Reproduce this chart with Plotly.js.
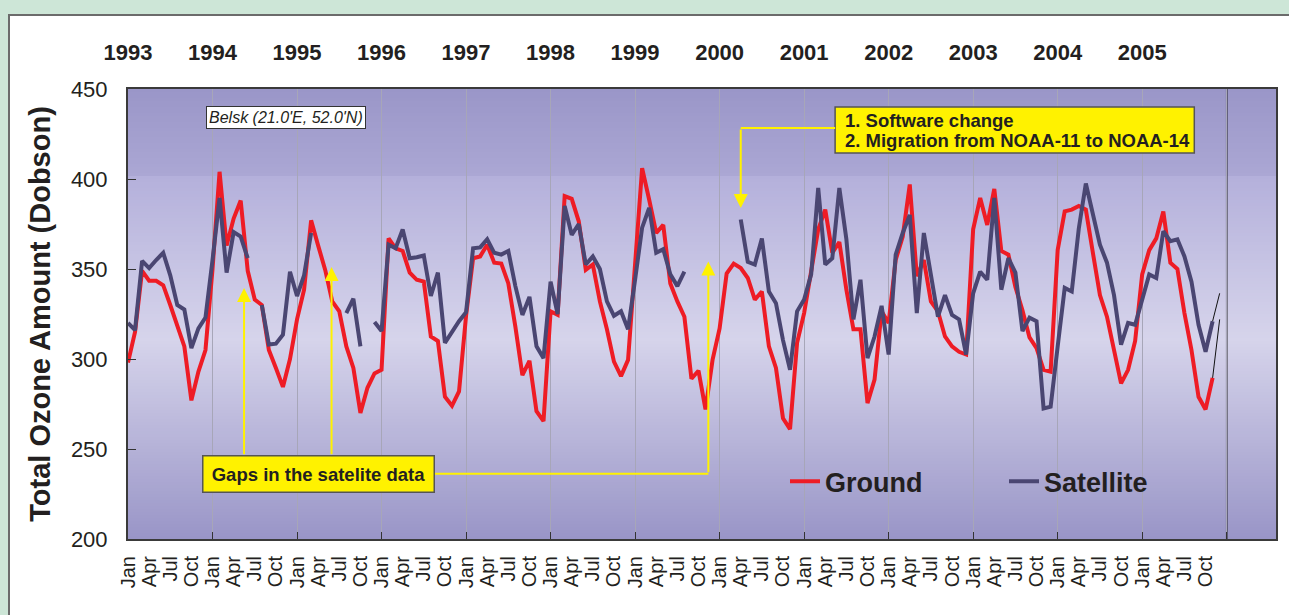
<!DOCTYPE html>
<html><head><meta charset="utf-8">
<script src="https://cdn.plot.ly/plotly-3.0.1.min.js"></script>
<style>
html,body{margin:0;padding:0;width:1289px;height:615px;overflow:hidden;background:#cde6d7;}
#frame{position:absolute;left:8px;top:14px;width:1289px;height:610px;background:#fff;border-left:2px solid #6b6b6b;border-top:2px solid #6b6b6b;}
#chart{position:absolute;left:0;top:0;width:1289px;height:615px;}
</style></head><body>
<div id="frame"></div><div id="chart"></div>
<script>
// ---- data (monthly, Jan 1993 .. Dec 2005) ----
const YEARS = ['1993','1994','1995','1996','1997','1998','1999','2000','2001','2002','2003','2004','2005'];
const MONTH_TICKS = ['Jan','Apr','Jul','Oct'];

const ground = [
  298, 315, 349, 343.5, 343.5, 341, 330, 319, 307, 277, 293, 305,          // 1993
  350, 404, 363, 378, 388, 349, 333, 330, 305, 295, 284.5, 300,            // 1994
  322, 338.5, 377, 363, 349.5, 332, 326.5, 307, 295, 270, 284, 292,        // 1995
  294, 367, 361.5, 360, 348, 344, 343, 312.5, 310, 279, 274, 282,          // 1996
  324, 356, 357, 363.5, 353.5, 353, 342, 318, 291, 299, 271, 265.5,        // 1997
  326.5, 324.5, 390.5, 389, 376.5, 349.5, 352.5, 332, 316.5, 298.5, 290.5, 299.5, // 1998
  351, 406, 388.5, 370, 374.5, 342, 332, 323.5, 289, 293.5, 272, 299.5,    // 1999
  317, 347.5, 353, 350.5, 345, 333, 337.5, 307, 295, 267, 261, 309,        // 2000
  325.5, 349.5, 372, 383, 359, 365, 338.5, 316.5, 316.5, 275.5, 288.5, 326.5, // 2001
  320, 355, 368, 397, 346, 355, 332, 326.5, 312.5, 307, 304, 302.5,        // 2002
  372, 389.5, 374.5, 394.5, 360, 358, 340, 327, 312, 306, 294, 293,        // 2003
  360.5, 382, 383, 385, 383, 359, 335.5, 323.5, 305, 286.5, 294, 310,      // 2004
  347, 360.5, 367, 382, 353.5, 350, 325.5, 305, 279, 272, 289.5, null      // 2005
];

const satellite = [
  320, 316, 354.5, 350.5, 355, 359, 346.5, 330, 327.5, 306, 317, 323,      // 1993
  355, 389.5, 348, 370.5, 368, 356, null, 330, 308, 308.5, 313.5, 348.5,   // 1994
  335, 346.5, 370, null, null, null, null, 325.5, 333.5, 307, null, 320.5, // 1995
  315.5, 363.5, 361.5, 372, 356, 356.5, 357.5, 335, 348, 309, 315.5, 321,  // 1996
  326, 361.5, 362, 366.5, 359, 358, 360, 340.5, 324.5, 334.5, 307, 300.5,  // 1997
  343, 325, 385, 369, 375, 352.5, 357, 350, 332, 324, 326.5, 316.5,        // 1998
  344, 373, 384, 359, 361, 347, 340.5, 348.5, null, null, null, null,      // 1999
  null, null, null, 377.5, 354, 352.5, 367, 337.5, 331, 310.5, 294, 326.5, // 2000
  333, 347, 395, 352.5, 356, 395, 366.5, 322, 344, 300.5, 312.5, 329.5,    // 2001
  302.5, 358, 370, 380, 325.5, 370, 346, 323.5, 335.5, 324.5, 322, 302.5,  // 2002
  336.5, 348.5, 344, 389.5, 338.5, 356, 348, 315.5, 323, 321, 272.5, 273.5,// 2003
  307, 339.5, 337.5, 372.5, 397.5, 380, 363.5, 353.5, 335.5, 308, 320, 319, // 2004
  333, 347, 345, 371, 365.5, 366.5, 357, 343, 319, 304, 321, null          // 2005
];

// thin black extension segments at the end of each series (Nov -> Dec 2005)
const endMonths = [154, 155];
const groundEnd = [289.5, 322];
const satelliteEnd = [321, 336.5];

// ---- derived positions (month index) ----
const monthIndex = ground.map((_, i) => i);
const yearTickVals = YEARS.map((_, i) => i * 12);
const monthTickVals = [], monthTickText = [];
YEARS.forEach((_, yi) => MONTH_TICKS.forEach((m, mi) => { monthTickVals.push(yi * 12 + mi * 3); monthTickText.push(m); }));
const gridVals = yearTickVals.concat([YEARS.length * 12]);

const FONT = 'Liberation Sans, Arial, Helvetica, sans-serif';
const TXT = '#231f20';
const YEL = '#fff200';
const XR = [0, 163];

const traces = [
  {x: monthIndex, y: ground, type: 'scatter', mode: 'lines', name: 'Ground',
   line: {color: '#ee1c25', width: 4}, connectgaps: false},
  {x: monthIndex, y: satellite, type: 'scatter', mode: 'lines', name: 'Satellite',
   line: {color: '#4a4672', width: 4}, connectgaps: false},
  {x: endMonths, y: groundEnd, type: 'scatter', mode: 'lines', showlegend: false,
   line: {color: '#111', width: 1}},
  {x: endMonths, y: satelliteEnd, type: 'scatter', mode: 'lines', showlegend: false,
   line: {color: '#111', width: 1}},
  // carriers so the top (year) and bottom (month) label axes are drawn
  {x: [yearTickVals[0]], y: [null], xaxis: 'x2', yaxis: 'y', type: 'scatter', mode: 'lines',
   showlegend: false, hoverinfo: 'skip'},
  {x: [monthTickVals[0]], y: [null], xaxis: 'x3', yaxis: 'y', type: 'scatter', mode: 'lines',
   showlegend: false, hoverinfo: 'skip'}
];

// background gradient strips (paper coords)
function lerp(a, b, t) { return a + (b - a) * t; }
const stops = [[0,[154,150,200]],[87,[171,167,212]],[87.01,[180,176,219]],[250,[214,212,235]],[450,[153,149,199]]];
function colAt(p) {
  for (let i = 0; i < stops.length - 1; i++) {
    const [p0, c0] = stops[i], [p1, c1] = stops[i + 1];
    if (p >= p0 && p <= p1) {
      const t = (p - p0) / (p1 - p0);
      return 'rgb(' + c0.map((v, k) => Math.round(lerp(v, c1[k], t))).join(',') + ')';
    }
  }
  return 'rgb(153,149,199)';
}
const shapes = [];
const H = 450, STEP = 3;
for (let py = 0; py < H; py += STEP) {
  shapes.push({type: 'rect', xref: 'paper', yref: 'paper', x0: 0, x1: 1,
    y0: 1 - Math.min(py + STEP, H) / H, y1: 1 - py / H,
    fillcolor: colAt(py + STEP / 2), line: {width: 0}, layer: 'below'});
}
// black divider at Jan 2006
shapes.push({type: 'line', xref: 'x', yref: 'paper', x0: 156, x1: 156, y0: 0, y1: 1,
  line: {color: '#1a1a1a', width: 1.5}, layer: 'between'});
// software-change box
shapes.push({type: 'rect', xref: 'x', yref: 'y', x0: 100.4, x1: 151.4, y0: 414.4, y1: 440,
  fillcolor: YEL, line: {color: '#555', width: 1.5}, layer: 'above'});
// yellow connector lines
shapes.push({type: 'line', xref: 'x', yref: 'y', x0: 43.6, x1: 82.4, y0: 236.3, y1: 236.3,
  line: {color: YEL, width: 2}, layer: 'above'});
shapes.push({type: 'line', xref: 'x', yref: 'y', x0: 100.4, x1: 87.0, y0: 428.3, y1: 428.3,
  line: {color: YEL, width: 2}, layer: 'above'});

function arrow(x, yHead, yTail) {
  return {x: x, y: yHead, ax: x, ay: yTail, xref: 'x', yref: 'y', axref: 'x', ayref: 'y',
    text: '', showarrow: true, arrowhead: 2, arrowsize: 1.4, arrowwidth: 2, arrowcolor: YEL};
}

const annotations = [
  {x: 22.4, y: 434.3, xref: 'x', yref: 'y', text: "Belsk (21.0'E, 52.0'N)", showarrow: false,
   font: {family: FONT, size: 16, style: 'italic', color: TXT}, bgcolor: '#fff',
   bordercolor: '#333', borderwidth: 1, borderpad: 2},
  arrow(16.48, 339.4, 246.3),
  arrow(28.9, 351.1, 246.3),
  arrow(82.4, 354.2, 236.3),
  arrow(87.0, 383.9, 428.3),
  {x: 27.1, y: 236.1, xref: 'x', yref: 'y', text: 'Gaps in the satelite data', showarrow: false,
   font: {family: FONT, size: 18.5, weight: 'bold', color: TXT}, bgcolor: YEL,
   bordercolor: '#555', borderwidth: 1.5, borderpad: 5, width: 220, height: 25},
  {x: 101.5, y: 432.4, xref: 'x', yref: 'y', xanchor: 'left', text: '1. Software change', showarrow: false,
   font: {family: FONT, size: 18.5, weight: 'bold', color: TXT}},
  {x: 101.5, y: 421.3, xref: 'x', yref: 'y', xanchor: 'left', text: '2. Migration from NOAA-11 to NOAA-14', showarrow: false,
   font: {family: FONT, size: 18.5, weight: 'bold', color: TXT}}
];

const layout = {
  width: 1289, height: 615,
  margin: {l: 128, r: 13, t: 89, b: 76, pad: 0},
  paper_bgcolor: 'rgba(0,0,0,0)', plot_bgcolor: 'rgba(0,0,0,0)',
  font: {family: FONT, color: TXT},
  showlegend: true,
  legend: {orientation: 'h', x: 0.5723, y: 0.1273, xanchor: 'left', yanchor: 'middle',
    bgcolor: 'rgba(0,0,0,0)', font: {family: FONT, size: 27, weight: 'bold', color: TXT},
    entrywidth: 174, entrywidthmode: 'pixels', traceorder: 'normal'},
  xaxis: {range: XR, tickmode: 'array', tickvals: gridVals, showticklabels: false,
    ticks: 'inside', ticklen: 7, tickcolor: '#333', tickwidth: 1,
    showgrid: true, gridcolor: '#a7a6b8', gridwidth: 1, zeroline: false,
    showline: true, mirror: true, linecolor: '#3a3a3a', linewidth: 2, fixedrange: true},
  xaxis2: {range: XR, overlaying: 'x', side: 'top', anchor: 'y', tickmode: 'array',
    tickvals: yearTickVals, ticktext: YEARS, ticks: '', showgrid: false, zeroline: false, showline: false,
    tickfont: {family: FONT, size: 22, weight: 'bold', color: TXT}, ticklabelstandoff: 24},
  xaxis3: {range: XR, overlaying: 'x', side: 'bottom', anchor: 'y', tickmode: 'array',
    tickvals: monthTickVals, ticktext: monthTickText, tickangle: -90, ticks: '',
    showgrid: false, zeroline: false, showline: false,
    tickfont: {family: FONT, size: 20, color: TXT}, ticklabelstandoff: 12},
  yaxis: {range: [200, 450], tickmode: 'array', tickvals: [200, 250, 300, 350, 400, 450],
    ticks: 'inside', ticklen: 8, tickcolor: '#333', showgrid: false, zeroline: false,
    showline: true, mirror: true, linecolor: '#3a3a3a', linewidth: 2,
    tickfont: {family: FONT, size: 22, color: TXT}, ticklabelstandoff: 14,
    title: {text: 'Total Ozone Amount (Dobson)', font: {family: FONT, size: 29, weight: 'bold', color: TXT}, standoff: 12}},
  shapes: shapes,
  annotations: annotations
};

Plotly.newPlot('chart', traces, layout, {staticPlot: true, displayModeBar: false});
</script>
</body></html>
